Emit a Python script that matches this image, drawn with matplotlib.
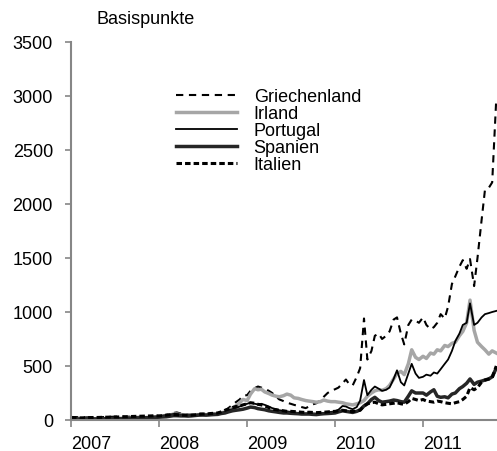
import matplotlib
matplotlib.use("Agg")
import matplotlib.pyplot as plt
import pandas as pd

plt.rcParams['font.family'] = ['Liberation Sans', 'DejaVu Sans']

# semi-monthly readings (1st and 15th), Jan 2007 - Nov 2011, basis points
dates = pd.date_range('2007-01-01', '2011-11-01', freq='SMS')

griechenland = [
    28, 27, 26, 25, 24, 25, 24, 26, 25, 27, 28, 30, 30, 32, 33, 30, 31, 30, 28, 30, 32, 31, 33, 35,
    38, 42, 48, 55, 65, 70, 60, 55, 52, 50, 55, 60, 58, 55, 60, 62, 65, 75, 90, 110, 140, 165, 190, 225,
    230, 270, 295, 310, 300, 290, 270, 250, 215, 190, 175, 160, 150, 140, 130, 120, 110, 125, 145, 155, 180, 215, 250, 270,
    285, 300, 340, 375, 330, 320, 400, 480, 940, 560, 640, 780, 800, 750, 780, 820, 930, 950, 800, 700, 880, 930, 920, 900,
    950, 880, 840, 860, 900, 980, 940, 1050, 1260, 1330, 1420, 1480, 1400, 1490, 1240, 1500, 1850, 2130, 2150, 2200, 2975,
]
irland = [
    8, 9, 8, 7, 8, 9, 10, 9, 10, 11, 12, 12, 13, 14, 15, 16, 18, 18, 20, 21, 22, 24, 26, 30,
    32, 35, 40, 45, 55, 55, 50, 48, 45, 45, 48, 50, 50, 48, 52, 55, 60, 65, 75, 90, 110, 130, 160, 190,
    180, 240, 290, 280, 285, 260, 245, 230, 220, 215, 225, 240, 230, 205, 200, 190, 180, 175, 170, 165, 170, 185, 175, 170,
    170, 165, 160, 150, 145, 140, 150, 160, 180, 220, 250, 270, 280, 275, 290, 320, 380, 430, 450, 420, 520, 650, 580, 560,
    590, 570, 620, 610, 650, 640, 690, 680, 710, 720, 780, 820, 900, 1110, 830, 720, 680, 650, 610, 640, 620,
]
portugal = [
    15, 16, 15, 14, 15, 16, 16, 15, 16, 17, 18, 18, 18, 19, 20, 20, 22, 23, 24, 25, 26, 28, 30, 30,
    35, 38, 45, 50, 55, 55, 50, 48, 45, 45, 48, 50, 50, 48, 52, 55, 58, 65, 75, 90, 100, 110, 125, 140,
    150, 160, 150, 145, 150, 140, 125, 110, 100, 90, 85, 80, 75, 70, 65, 60, 60, 62, 60, 58, 60, 65, 70, 75,
    80, 95, 130, 125, 110, 100, 120, 180, 370, 230, 280, 310, 290, 270, 280, 300, 380, 460, 350, 320, 430, 520, 430, 390,
    400, 420, 410, 440, 430, 470, 520, 560, 640, 730, 800, 880, 900, 1080, 880, 900, 950, 980, 990, 1000, 1010,
]
spanien = [
    5, 6, 5, 5, 6, 6, 7, 7, 8, 9, 10, 10, 11, 12, 12, 14, 15, 16, 18, 19, 20, 21, 22, 24,
    26, 28, 30, 35, 40, 40, 38, 38, 36, 38, 42, 45, 46, 45, 48, 50, 52, 60, 65, 75, 85, 90, 95, 100,
    110, 120, 115, 105, 100, 95, 85, 80, 75, 70, 65, 65, 62, 60, 58, 55, 55, 55, 52, 50, 55, 58, 60, 62,
    65, 75, 85, 80, 75, 70, 80, 95, 130, 150, 190, 210, 180, 165, 170, 175, 185, 180, 170, 165, 220, 270, 250, 250,
    250, 230, 260, 280, 220, 210, 215, 205, 240, 250, 290, 310, 340, 380, 330, 350, 360, 370, 380, 400, 480,
]
italien = [
    22, 22, 20, 20, 21, 22, 23, 23, 24, 25, 26, 27, 28, 28, 30, 30, 32, 33, 34, 35, 36, 37, 38, 40,
    38, 40, 45, 48, 50, 48, 45, 44, 45, 45, 48, 52, 55, 55, 60, 62, 65, 75, 90, 100, 115, 125, 130, 140,
    150, 160, 155, 145, 140, 130, 115, 100, 95, 90, 85, 80, 80, 78, 75, 72, 70, 72, 70, 68, 70, 72, 75, 78,
    80, 85, 90, 85, 80, 78, 85, 90, 130, 150, 160, 165, 150, 140, 145, 150, 155, 160, 150, 145, 170, 200, 190, 180,
    190, 175, 170, 165, 175, 170, 160, 155, 150, 160, 170, 190, 220, 300, 280, 300, 350, 370, 380, 390, 500,
]

labels = ['Griechenland', 'Irland', 'Portugal', 'Spanien', 'Italien']
years = [2007, 2008, 2009, 2010, 2011]

W, H = 497, 452
fig = plt.figure(figsize=(W / 100, H / 100), dpi=100)
ax = fig.add_axes([71 / W, 1 - 421 / H, (W - 71) / W, (421 - 43) / H])

ax.plot(dates, griechenland, color='black', lw=1.5, ls=(0, (3.5, 2.7)), label=labels[0])
ax.plot(dates, irland, color='#a6a6a6', lw=2.5, label=labels[1])
ax.plot(dates, portugal, color='black', lw=1.3, label=labels[2])
ax.plot(dates, spanien, color='#262626', lw=2.5, label=labels[3])
ax.plot(dates, italien, color='black', lw=2.2, ls=(0, (1.8, 1.0)), label=labels[4])

ax.set_ylim(0, 3500)
ax.set_yticks(range(0, 3501, 500))
ax.set_xlim(pd.Timestamp('2007-01-01'), pd.Timestamp('2011-11-04'))
ax.set_xticks([pd.Timestamp(f'{y}-01-01') for y in years])
ax.set_xticklabels([str(y) for y in years], ha='left')

for side in ['top', 'right']:
    ax.spines[side].set_visible(False)
for side in ['left', 'bottom']:
    ax.spines[side].set_color('#868686')
    ax.spines[side].set_linewidth(1.5)
ax.tick_params(axis='y', colors='#868686', length=4, width=1.2, pad=9,
               labelcolor='black', labelsize=13)
ax.tick_params(axis='x', colors='#868686', length=5, width=1.2, pad=6,
               labelcolor='black', labelsize=13)

fig.text(97 / W, 1 - 20 / H, 'Basispunkte', fontsize=13, va='center', ha='left')

ax.legend(loc='upper left', bbox_to_anchor=(176 / W, 1 - 89 / H), bbox_transform=fig.transFigure,
          frameon=False, fontsize=13, borderpad=0, borderaxespad=0,
          handlelength=3.4, handletextpad=0.9, labelspacing=0.0)

fig.savefig('out.png', dpi=100)
